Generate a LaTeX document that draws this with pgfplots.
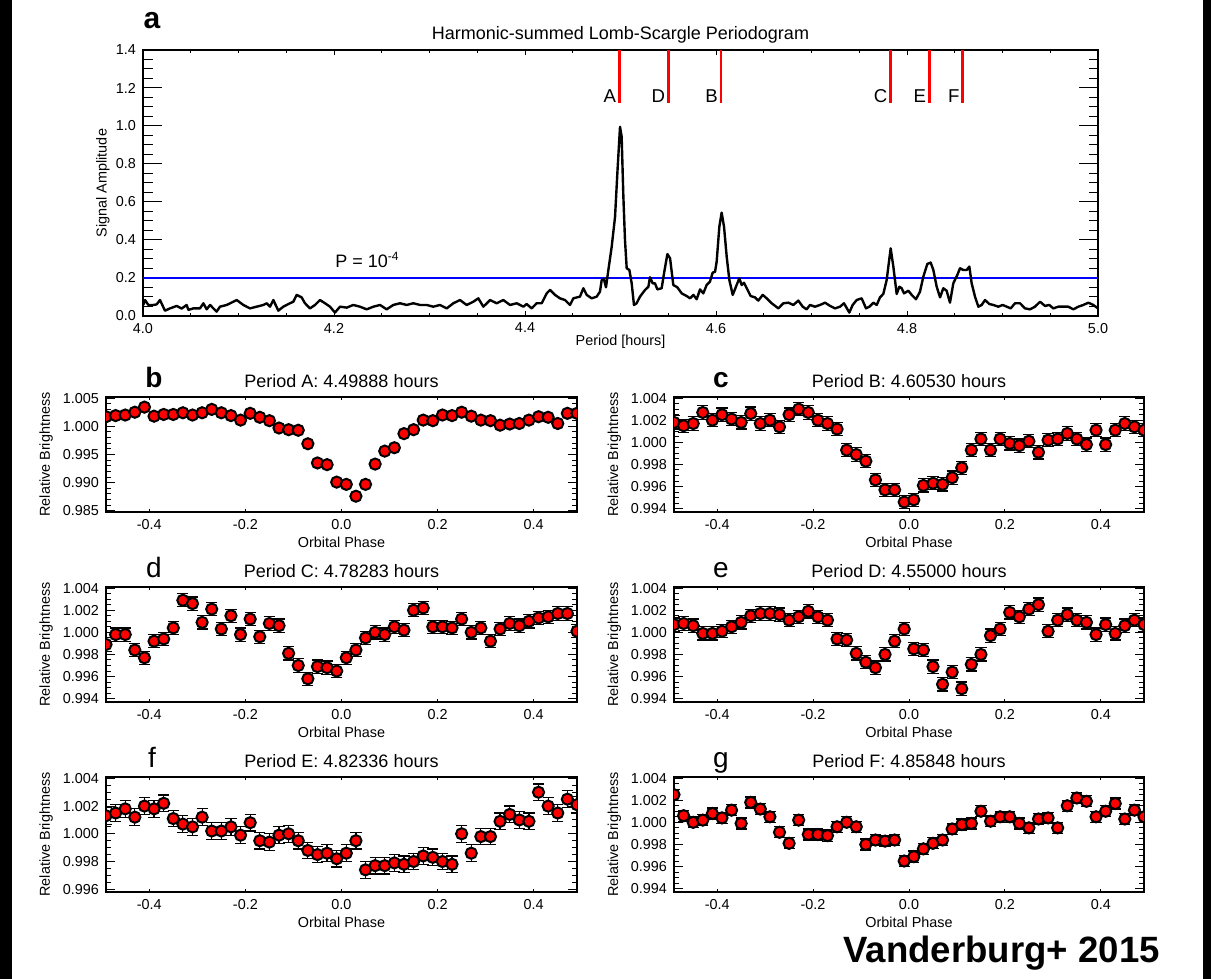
\documentclass[border=0pt]{standalone}
\usepackage{fontspec}
\setmainfont{Liberation Sans}
\usepackage{pgfplots}
\usepackage{pgfplotstable}
\pgfplotsset{compat=1.18}

\pgfplotstableread{
phase b c d e f g
-0.49 1.0017 1.0018 0.9989 1.0007 1.0013 1.0025
-0.47 1.0019 1.0015 0.9998 1.0008 1.0015 1.0006
-0.45 1.0020 1.0017 0.9998 1.0006 1.0018 1.0000
-0.43 1.0025 1.0027 0.9984 0.9999 1.0012 1.0002
-0.41 1.0034 1.0020 0.9977 0.9999 1.0020 1.0008
-0.39 1.0018 1.0025 0.9992 1.0001 1.0018 1.0004
-0.37 1.0021 1.0021 0.9994 1.0005 1.0022 1.0011
-0.35 1.0021 1.0018 1.0004 1.0009 1.0011 0.9999
-0.33 1.0024 1.0026 1.0029 1.0015 1.0007 1.0018
-0.31 1.0020 1.0017 1.0026 1.0017 1.0005 1.0012
-0.29 1.0024 1.0020 1.0009 1.0017 1.0012 1.0005
-0.27 1.0030 1.0014 1.0021 1.0016 1.0002 0.9991
-0.25 1.0024 1.0025 1.0003 1.0011 1.0002 0.9981
-0.23 1.0019 1.0030 1.0015 1.0014 1.0005 1.0002
-0.21 1.0011 1.0027 0.9998 1.0019 0.9999 0.9989
-0.19 1.0023 1.0020 1.0012 1.0014 1.0008 0.9989
-0.17 1.0016 1.0017 0.9996 1.0011 0.9995 0.9988
-0.15 1.0010 1.0012 1.0008 0.9994 0.9994 0.9996
-0.13 0.9997 0.9993 1.0006 0.9993 0.9999 1.0000
-0.11 0.9994 0.9989 0.9981 0.9981 1.0000 0.9996
-0.09 0.9993 0.9983 0.9970 0.9973 0.9995 0.9980
-0.07 0.9969 0.9966 0.9958 0.9968 0.9988 0.9984
-0.05 0.9935 0.9957 0.9969 0.9980 0.9985 0.9983
-0.03 0.9932 0.9957 0.9968 0.9992 0.9986 0.9984
-0.01 0.9901 0.9946 0.9965 1.0003 0.9982 0.9965
0.01 0.9897 0.9948 0.9977 0.9985 0.9986 0.9969
0.03 0.9876 0.9961 0.9984 0.9984 0.9995 0.9976
0.05 0.9897 0.9963 0.9995 0.9969 0.9974 0.9981
0.07 0.9933 0.9962 1.0000 0.9953 0.9977 0.9984
0.09 0.9956 0.9968 0.9998 0.9964 0.9977 0.9994
0.11 0.9962 0.9977 1.0005 0.9949 0.9979 0.9998
0.13 0.9987 0.9993 1.0002 0.9971 0.9978 0.9999
0.15 0.9994 1.0003 1.0020 0.9980 0.9980 1.0010
0.17 1.0011 0.9993 1.0022 0.9997 0.9984 1.0001
0.19 1.0010 1.0003 1.0005 1.0003 0.9983 1.0005
0.21 1.0020 0.9999 1.0005 1.0018 0.9980 1.0005
0.23 1.0019 0.9997 1.0004 1.0014 0.9978 0.9999
0.25 1.0025 1.0001 1.0012 1.0021 1.0000 0.9995
0.27 1.0018 0.9991 1.0000 1.0025 0.9986 1.0003
0.29 1.0011 1.0002 1.0004 1.0001 0.9998 1.0004
0.31 1.0010 1.0003 0.9992 1.0011 0.9998 0.9995
0.33 1.0002 1.0008 1.0003 1.0016 1.0009 1.0015
0.35 1.0004 1.0003 1.0008 1.0011 1.0014 1.0022
0.37 1.0005 0.9998 1.0006 1.0009 1.0010 1.0019
0.39 1.0011 1.0011 1.0010 0.9998 1.0009 1.0005
0.41 1.0017 0.9998 1.0013 1.0007 1.0030 1.0010
0.43 1.0016 1.0011 1.0014 0.9999 1.0020 1.0017
0.45 1.0005 1.0017 1.0017 1.0006 1.0015 1.0003
0.47 1.0023 1.0014 1.0017 1.0011 1.0025 1.0011
0.49 1.0023 1.0011 1.0001 1.0007 1.0021 1.0005
}\phasedata

\pgfplotstableread{
P A
4.0003 0.058
4.0021 0.084
4.0056 0.058
4.0108 0.058
4.0143 0.061
4.0178 0.084
4.0230 0.028
4.0283 0.040
4.0353 0.053
4.0405 0.039
4.0457 0.058
4.0475 0.032
4.0527 0.040
4.0597 0.040
4.0632 0.067
4.0667 0.035
4.0702 0.058
4.0771 0.023
4.0806 0.049
4.0876 0.058
4.0946 0.075
4.0981 0.084
4.1051 0.058
4.1120 0.040
4.1190 0.049
4.1260 0.058
4.1295 0.067
4.1330 0.049
4.1365 0.084
4.1417 0.028
4.1469 0.049
4.1539 0.067
4.1574 0.075
4.1609 0.111
4.1661 0.098
4.1696 0.067
4.1749 0.040
4.1801 0.058
4.1853 0.084
4.1906 0.067
4.1958 0.049
4.2010 0.018
4.2063 0.049
4.2133 0.044
4.2202 0.058
4.2272 0.049
4.2342 0.035
4.2412 0.049
4.2482 0.058
4.2551 0.035
4.2621 0.058
4.2691 0.067
4.2761 0.058
4.2831 0.067
4.2901 0.058
4.2970 0.058
4.3040 0.049
4.3110 0.058
4.3180 0.040
4.3250 0.067
4.3319 0.084
4.3389 0.058
4.3459 0.075
4.3511 0.093
4.3564 0.049
4.3634 0.084
4.3703 0.067
4.3773 0.084
4.3843 0.058
4.3913 0.067
4.3983 0.049
4.4017 0.063
4.4070 0.040
4.4122 0.067
4.4175 0.067
4.4227 0.119
4.4262 0.137
4.4314 0.111
4.4366 0.093
4.4419 0.084
4.4471 0.058
4.4506 0.093
4.4576 0.102
4.4611 0.146
4.4646 0.111
4.4698 0.093
4.4751 0.102
4.4785 0.128
4.4803 0.189
4.4827 0.193
4.4848 0.151
4.4873 0.242
4.4908 0.365
4.4943 0.523
4.4967 0.751
4.4995 0.996
4.5012 0.944
4.5030 0.628
4.5047 0.400
4.5065 0.251
4.5093 0.242
4.5117 0.172
4.5141 0.058
4.5169 0.067
4.5204 0.102
4.5257 0.137
4.5292 0.154
4.5309 0.204
4.5337 0.172
4.5361 0.172
4.5386 0.140
4.5431 0.146
4.5456 0.225
4.5491 0.326
4.5519 0.304
4.5553 0.163
4.5595 0.151
4.5641 0.119
4.5693 0.105
4.5728 0.093
4.5763 0.111
4.5798 0.088
4.5833 0.140
4.5867 0.119
4.5902 0.163
4.5937 0.181
4.5965 0.228
4.5990 0.233
4.6007 0.286
4.6035 0.470
4.6059 0.544
4.6084 0.470
4.6112 0.312
4.6140 0.189
4.6175 0.111
4.6209 0.154
4.6244 0.198
4.6269 0.163
4.6293 0.175
4.6328 0.140
4.6363 0.105
4.6408 0.098
4.6443 0.081
4.6489 0.111
4.6531 0.093
4.6583 0.067
4.6653 0.040
4.6705 0.067
4.6758 0.070
4.6810 0.058
4.6862 0.081
4.6908 0.049
4.6949 0.035
4.6984 0.058
4.7037 0.049
4.7089 0.058
4.7142 0.070
4.7194 0.053
4.7246 0.040
4.7299 0.049
4.7340 0.067
4.7396 0.018
4.7431 0.058
4.7473 0.084
4.7525 0.093
4.7571 0.040
4.7606 0.049
4.7648 0.070
4.7683 0.058
4.7717 0.098
4.7752 0.116
4.7787 0.189
4.7829 0.356
4.7857 0.260
4.7892 0.116
4.7920 0.154
4.7944 0.146
4.7969 0.119
4.8014 0.133
4.8049 0.111
4.8094 0.088
4.8136 0.128
4.8171 0.207
4.8213 0.274
4.8248 0.281
4.8276 0.242
4.8311 0.154
4.8346 0.098
4.8380 0.146
4.8415 0.133
4.8450 0.070
4.8485 0.172
4.8527 0.216
4.8555 0.251
4.8590 0.242
4.8625 0.242
4.8653 0.260
4.8677 0.172
4.8712 0.102
4.8747 0.049
4.8782 0.058
4.8817 0.084
4.8862 0.063
4.8904 0.058
4.8956 0.049
4.9002 0.058
4.9044 0.049
4.9086 0.040
4.9131 0.067
4.9183 0.067
4.9236 0.040
4.9288 0.035
4.9340 0.049
4.9393 0.075
4.9445 0.053
4.9490 0.058
4.9532 0.040
4.9585 0.049
4.9637 0.049
4.9689 0.049
4.9742 0.035
4.9794 0.049
4.9846 0.058
4.9899 0.070
4.9951 0.058
5.0000 0.040
}\perdata

\pgfplotsset{
  idl/.style={
    scale only axis,
    axis line style={line width=0.6pt},
    every tick/.style={black, line width=0.5pt},
    tick align=inside,
    scaled ticks=false,
    clip marker paths=true,
    /pgf/number format/assume math mode=true,
    tick label style={font=\fontsize{7.2}{8}\selectfont},
    label style={font=\fontsize{7.2}{8}\selectfont},
    title style={font=\fontsize{9}{10}\selectfont, at={(axis description cs:0.5,1)}, anchor=center},
  },
  phase/.style={
    idl,
    width=235.5pt, height=57.5pt,
    xmin=-0.49, xmax=0.49,
    xtick={-0.4,-0.2,0,0.2,0.4},
    minor x tick num=3,
    minor y tick num=3,
    x tick label style={/pgf/number format/.cd, fixed, fixed zerofill, precision=1, /tikz/.cd},
    y tick label style={/pgf/number format/.cd, fixed, fixed zerofill, precision=3, /tikz/.cd},
    xlabel={Orbital Phase}, ylabel={Relative Brightness},
    xlabel style={at={(axis description cs:0.5,0)}, anchor=center, yshift=-15pt},
    ylabel style={at={(axis description cs:-0.127,0.5)}, anchor=center},
    title style={yshift=2pt},
    xtick style={/pgfplots/major tick length=1.3pt, /pgfplots/minor tick length=0.7pt},
    ytick style={/pgfplots/major tick length=4.7pt, /pgfplots/minor tick length=2.35pt},
  },
  pts/.style={only marks, mark=*, mark size=2.8pt,
    mark options={fill=red, draw=black, line width=1pt},
    error bars/.cd, y dir=both, y fixed=#1, error mark=-,
    error mark options={rotate=90, black, mark size=2.8pt, line width=0.6pt},
    error bar style={black, line width=0.6pt}},
  ptsb/.style={only marks, mark=*, mark size=2.8pt,
    mark options={fill=red, draw=black, line width=1pt}},
}

\begin{document}
\begin{tikzpicture}
\path[use as bounding box] (0,0) rectangle (605.5pt,489.5pt);
\fill[black] (0,0) rectangle (6pt,489.5pt);
\fill[black] (601.5pt,0) rectangle (605.5pt,489.5pt);

% Panel a
\begin{axis}[idl, at={(71.5pt,331.5pt)}, anchor=south west,
  width=477.5pt, height=133pt,
  xmin=4, xmax=5, ymin=0, ymax=1.4,
  xtick={4,4.2,4.4,4.6,4.8,5}, ytick={0,0.2,0.4,0.6,0.8,1.0,1.2,1.4},
  minor x tick num=3, minor y tick num=3,
  x tick label style={/pgf/number format/.cd, fixed, fixed zerofill, precision=1, /tikz/.cd},
  y tick label style={/pgf/number format/.cd, fixed, fixed zerofill, precision=1, /tikz/.cd},
  xlabel={Period [hours]}, ylabel={Signal Amplitude},
  xlabel style={at={(axis description cs:0.5,0)}, anchor=center, yshift=-13pt},
  ylabel style={at={(axis description cs:-0.042,0.5)}, anchor=center},
  title={Harmonic-summed Lomb-Scargle Periodogram},
  title style={yshift=1.5pt},
  xtick style={/pgfplots/major tick length=2.65pt, /pgfplots/minor tick length=1.3pt},
  ytick style={/pgfplots/major tick length=9.5pt, /pgfplots/minor tick length=4.75pt},
]
\addplot[blue, line width=0.6pt] coordinates {(4,0.2) (5,0.2)};
\addplot[black, line width=1.2pt, line join=round] table[x=P, y=A] {\perdata};
\addplot[red, line width=1.4pt] coordinates {(4.49888,1.12) (4.49888,1.4)};
\addplot[red, line width=1.4pt] coordinates {(4.55,1.12) (4.55,1.4)};
\addplot[red, line width=1.4pt] coordinates {(4.6053,1.12) (4.6053,1.4)};
\addplot[red, line width=1.4pt] coordinates {(4.78283,1.12) (4.78283,1.4)};
\addplot[red, line width=1.4pt] coordinates {(4.82336,1.12) (4.82336,1.4)};
\addplot[red, line width=1.4pt] coordinates {(4.85848,1.12) (4.85848,1.4)};
\node[anchor=base east, inner sep=0pt, font=\fontsize{9.3}{10}\selectfont] at (axis cs:4.4958,1.121) {A};
\node[anchor=base east, inner sep=0pt, font=\fontsize{9.3}{10}\selectfont] at (axis cs:4.5470,1.121) {D};
\node[anchor=base east, inner sep=0pt, font=\fontsize{9.3}{10}\selectfont] at (axis cs:4.6023,1.121) {B};
\node[anchor=base east, inner sep=0pt, font=\fontsize{9.3}{10}\selectfont] at (axis cs:4.7798,1.121) {C};
\node[anchor=base east, inner sep=0pt, font=\fontsize{9.3}{10}\selectfont] at (axis cs:4.8203,1.121) {E};
\node[anchor=base east, inner sep=0pt, font=\fontsize{9.3}{10}\selectfont] at (axis cs:4.8555,1.121) {F};
\node[anchor=base west, inner sep=0pt, font=\fontsize{9}{10}\selectfont] at (axis cs:4.201,0.253) {P = 10\textsuperscript{-4}};
\end{axis}

% Panel b
\begin{axis}[phase, at={(53pt,233.5pt)}, anchor=south west,
  ymin=0.9848, ymax=1.0052,
  ytick={0.985,0.990,0.995,1.000,1.005}, minor y tick num=4,
  title={Period A: 4.49888 hours}]
\addplot[ptsb] table[x=phase, y=b] {\phasedata};
\end{axis}

% Panel c
\begin{axis}[phase, at={(337pt,233.5pt)}, anchor=south west, width=235pt,
  ymin=0.9937, ymax=1.0041,
  ytick={0.994,0.996,0.998,1.000,1.002,1.004},
  title={Period B: 4.60530 hours}]
\addplot[pts=0.0006] table[x=phase, y=c] {\phasedata};
\end{axis}

% Panel d
\begin{axis}[phase, at={(53pt,138.5pt)}, anchor=south west,
  ymin=0.9937, ymax=1.0041,
  ytick={0.994,0.996,0.998,1.000,1.002,1.004},
  title={Period C: 4.78283 hours}]
\addplot[pts=0.0006] table[x=phase, y=d] {\phasedata};
\end{axis}

% Panel e
\begin{axis}[phase, at={(337pt,138.5pt)}, anchor=south west, width=235pt,
  ymin=0.9937, ymax=1.0041,
  ytick={0.994,0.996,0.998,1.000,1.002,1.004},
  title={Period D: 4.55000 hours}]
\addplot[pts=0.0006] table[x=phase, y=e] {\phasedata};
\end{axis}

% Panel f
\begin{axis}[phase, at={(53pt,43.5pt)}, anchor=south west,
  ymin=0.9958, ymax=1.0041,
  ytick={0.996,0.998,1.000,1.002,1.004},
  title={Period E: 4.82336 hours}]
\addplot[pts=0.0006] table[x=phase, y=f] {\phasedata};
\end{axis}

% Panel g
\begin{axis}[phase, at={(337pt,43.5pt)}, anchor=south west, width=235pt,
  ymin=0.9937, ymax=1.0041,
  ytick={0.994,0.996,0.998,1.000,1.002,1.004},
  title={Period F: 4.85848 hours}]
\addplot[pts=0.0005] table[x=phase, y=g] {\phasedata};
\end{axis}

% panel letters
\node[anchor=base, font=\bfseries\fontsize{15}{16}\selectfont] at (76pt,475pt) {a};
\node[anchor=base, font=\bfseries\fontsize{14}{15}\selectfont] at (77pt,295.5pt) {b};
\node[anchor=base, font=\bfseries\fontsize{14}{15}\selectfont] at (360.5pt,295.5pt) {c};
\node[anchor=base, font=\fontsize{14}{15}\selectfont] at (77pt,200.5pt) {d};
\node[anchor=base, font=\fontsize{14}{15}\selectfont] at (360.5pt,200.5pt) {e};
\node[anchor=base, font=\fontsize{14}{15}\selectfont] at (76pt,105.5pt) {f};
\node[anchor=base, font=\fontsize{14}{15}\selectfont] at (360.5pt,105.5pt) {g};
\node[anchor=base west, inner sep=0pt, font=\bfseries\fontsize{18.3}{20}\selectfont] at (421.5pt,8pt) {Vanderburg+ 2015};
\end{tikzpicture}
\end{document}
